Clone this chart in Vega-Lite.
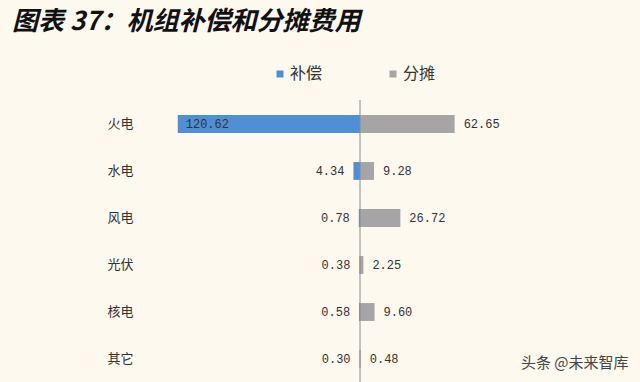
{
  "$schema": "https://vega.github.io/schema/vega-lite/v6.json",
  "width": 420,
  "height": 283,
  "autosize": {"type": "none"},
  "padding": {"left": 150, "top": 100, "right": 70, "bottom": 0},
  "background": "#FDF9EF",
  "title": {
    "text": "图表 37：机组补偿和分摊费用",
    "anchor": "start",
    "frame": "group",
    "dx": -138,
    "dy": -31,
    "offset": 0,
    "font": "Noto Sans CJK SC",
    "fontSize": 26,
    "fontWeight": "bold",
    "fontStyle": "italic",
    "color": "#111111"
  },
  "data": {
    "values": [
      {"cat": "火电", "type": "补偿", "value": 120.62},
      {"cat": "火电", "type": "分摊", "value": 62.65},
      {"cat": "水电", "type": "补偿", "value": 4.34},
      {"cat": "水电", "type": "分摊", "value": 9.28},
      {"cat": "风电", "type": "补偿", "value": 0.78},
      {"cat": "风电", "type": "分摊", "value": 26.72},
      {"cat": "光伏", "type": "补偿", "value": 0.38},
      {"cat": "光伏", "type": "分摊", "value": 2.25},
      {"cat": "核电", "type": "补偿", "value": 0.58},
      {"cat": "核电", "type": "分摊", "value": 9.60},
      {"cat": "其它", "type": "补偿", "value": 0.30},
      {"cat": "其它", "type": "分摊", "value": 0.48}
    ]
  },
  "transform": [
    {"calculate": "datum.type === '补偿' ? -datum.value : datum.value", "as": "signed"}
  ],
  "layer": [
    {
      "mark": {"type": "bar"},
      "encoding": {
        "x": {
          "field": "signed",
          "type": "quantitative",
          "scale": {"domain": [-139, 139], "nice": false, "zero": false},
          "axis": {
            "title": "头条 @未来智库",
            "titleX": 478,
            "titleY": -21,
            "titleAlign": "right",
            "titleBaseline": "middle",
            "titleFont": "Noto Sans CJK SC",
            "titleFontSize": 15,
            "titleFontWeight": "normal",
            "titleColor": "#444444",
            "labels": false,
            "ticks": false,
            "domain": false,
            "grid": false
          }
        },
        "y": {
          "field": "cat",
          "type": "nominal",
          "sort": ["火电", "水电", "风电", "光伏", "核电", "其它"],
          "scale": {"paddingInner": 0.62, "paddingOuter": 0.32},
          "axis": {
            "title": null,
            "domain": false,
            "ticks": false,
            "labelAlign": "left",
            "labelPadding": 43,
            "labelFont": "Noto Sans CJK SC",
            "labelFontSize": 13,
            "labelColor": "#333333"
          }
        },
        "color": {
          "field": "type",
          "type": "nominal",
          "scale": {"domain": ["补偿", "分摊"], "range": ["#4F8FD6", "#A6A4A4"]},
          "legend": {
            "orient": "none",
            "legendX": 122,
            "legendY": -34,
            "direction": "horizontal",
            "title": null,
            "symbolType": "square",
            "symbolSize": 49,
            "symbolStrokeWidth": 0,
            "labelFont": "Noto Sans CJK SC",
            "labelFontSize": 16,
            "labelColor": "#333333",
            "labelOffset": 2,
            "columnPadding": 62,
            "padding": 0
          }
        }
      }
    },
    {
      "transform": [{"filter": "datum.type === '补偿' && datum.value > 100"}],
      "mark": {"type": "text", "align": "left", "baseline": "middle", "dx": 8, "font": "Liberation Mono", "fontSize": 12, "color": "#333333"},
      "encoding": {
        "x": {"field": "signed", "type": "quantitative"},
        "y": {"field": "cat", "type": "nominal", "sort": ["火电", "水电", "风电", "光伏", "核电", "其它"]},
        "text": {"field": "value", "type": "quantitative", "format": ".2f"}
      }
    },
    {
      "transform": [{"filter": "datum.type === '补偿' && datum.value <= 100"}],
      "mark": {"type": "text", "align": "right", "baseline": "middle", "dx": -9, "font": "Liberation Mono", "fontSize": 12, "color": "#333333"},
      "encoding": {
        "x": {"field": "signed", "type": "quantitative"},
        "y": {"field": "cat", "type": "nominal", "sort": ["火电", "水电", "风电", "光伏", "核电", "其它"]},
        "text": {"field": "value", "type": "quantitative", "format": ".2f"}
      }
    },
    {
      "transform": [{"filter": "datum.type === '分摊'"}],
      "mark": {"type": "text", "align": "left", "baseline": "middle", "dx": 9, "font": "Liberation Mono", "fontSize": 12, "color": "#333333"},
      "encoding": {
        "x": {"field": "signed", "type": "quantitative"},
        "y": {"field": "cat", "type": "nominal", "sort": ["火电", "水电", "风电", "光伏", "核电", "其它"]},
        "text": {"field": "value", "type": "quantitative", "format": ".2f"}
      }
    },
    {
      "data": {"values": [{}]},
      "mark": {"type": "rule", "color": "#8C8C8C", "strokeWidth": 1},
      "encoding": {"x": {"datum": 0}}
    }
  ],
  "config": {"view": {"stroke": null}}
}
